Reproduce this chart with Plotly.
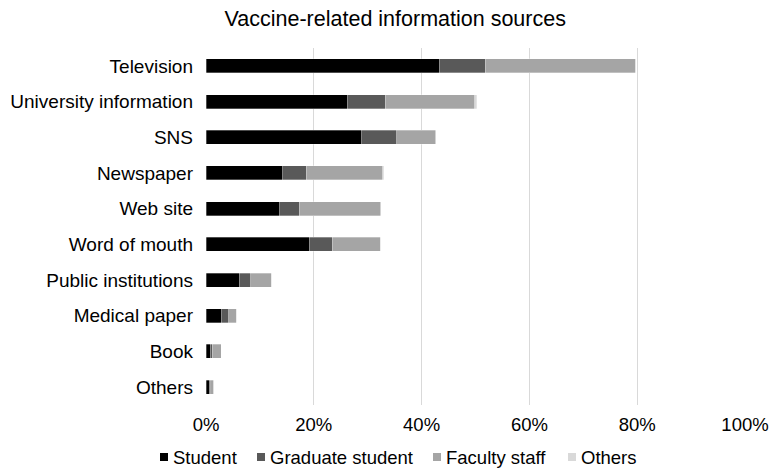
import plotly.graph_objects as go

# Information sources (top to bottom) and share of respondents by group
categories = ["Television", "University information", "SNS", "Newspaper", "Web site",
              "Word of mouth", "Public institutions", "Medical paper", "Book", "Others"]
student = [43.3, 26.2, 28.9, 14.2, 13.7, 19.2, 6.2, 2.8, 0.8, 0.6]
graduate = [8.5, 7.1, 6.5, 4.4, 3.6, 4.2, 2.1, 1.4, 0.4, 0.3]
faculty = [27.8, 16.6, 7.2, 14.2, 15.1, 8.9, 3.8, 1.4, 1.6, 0.5]
others = [0.2, 0.3, 0.1, 0.2, 0.1, 0.1, 0.1, 0.1, 0.0, 0.0]

series_names = ["Student", "Graduate student", "Faculty staff", "Others"]
series_values = [student, graduate, faculty, others]
series_colors = ["#000000", "#595959", "#a5a5a5", "#d9d9d9"]

font_family = "Liberation Sans, Arial, sans-serif"

W, H = 769, 468
M_L, M_R, M_T, M_B = 206, 24, 48, 63
plot_w = W - M_L - M_R
plot_h = H - M_T - M_B

fig = go.Figure()
for name, vals, color in zip(series_names, series_values, series_colors):
    fig.add_trace(go.Bar(
        y=categories,
        x=[v / 100 for v in vals],
        name=name,
        orientation="h",
        showlegend=False,
        marker=dict(color=color, line=dict(color="rgba(255,255,255,0.6)", width=0.5)),
    ))

# Compact legend row below the axis: small square swatch followed by the label
legend_swatch_px = [160, 257, 433, 568]   # left edge of each swatch (pixels)
legend_row_px = 457                        # vertical centre of the row (pixels)
swatch = 8


def px_x(px):
    return (px - M_L) / plot_w


def px_y(py):
    return (H - M_B - py) / plot_h


for name, color, sx in zip(series_names, series_colors, legend_swatch_px):
    fig.add_shape(
        type="rect", xref="paper", yref="paper",
        x0=px_x(sx), x1=px_x(sx + swatch),
        y0=px_y(legend_row_px + swatch / 2), y1=px_y(legend_row_px - swatch / 2),
        fillcolor=color, line=dict(width=0),
    )
    fig.add_annotation(
        text=name, xref="paper", yref="paper",
        x=px_x(sx + swatch + 3), y=px_y(legend_row_px),
        xanchor="left", yanchor="middle", showarrow=False,
        font=dict(size=18.5, color="#000000"),
    )

fig.update_layout(
    barmode="stack",
    bargap=0.61,
    width=W,
    height=H,
    margin=dict(l=M_L, r=M_R, t=M_T, b=M_B),
    paper_bgcolor="white",
    plot_bgcolor="white",
    font=dict(family=font_family, size=18, color="#000000"),
    showlegend=False,
    title=dict(
        text="Vaccine-related information sources",
        x=0.514, xanchor="center", xref="container",
        y=0.961, yanchor="middle", yref="container",
        font=dict(size=21.5, color="#000000"),
    ),
    xaxis=dict(
        range=[0, 1],
        dtick=0.2,
        tickformat=".0%",
        showgrid=True,
        gridcolor="#d9d9d9",
        gridwidth=1,
        zeroline=False,
        showline=False,
        ticks="",
        ticklabelstandoff=6,
        tickfont=dict(size=18.5),
        automargin=False,
    ),
    yaxis=dict(
        categoryorder="array",
        categoryarray=categories,
        autorange="reversed",
        showgrid=False,
        zeroline=False,
        showline=False,
        ticks="",
        ticklabelstandoff=12,
        tickfont=dict(size=19),
        automargin=False,
    ),
)

fig.write_html("out.html")
